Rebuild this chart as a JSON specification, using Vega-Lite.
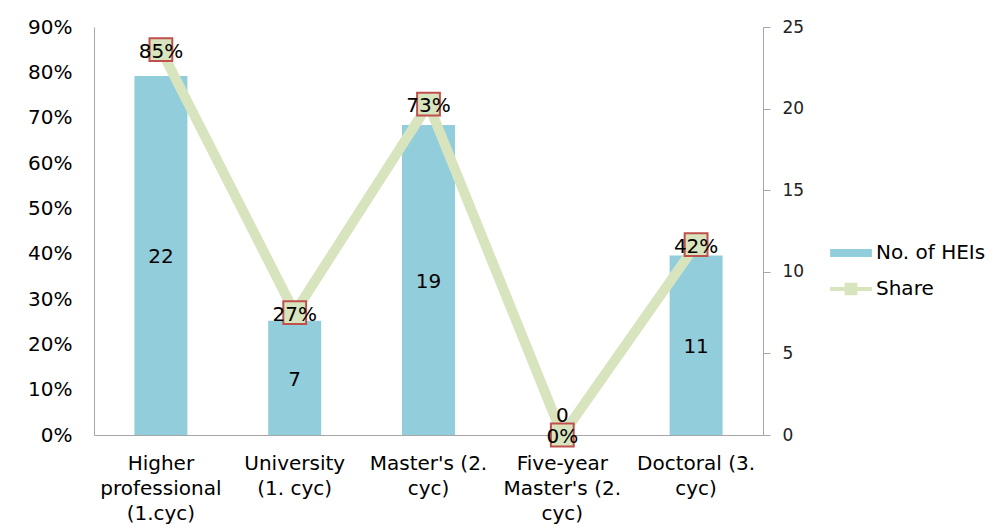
{
  "$schema": "https://vega.github.io/schema/vega-lite/v6.json",
  "width": 669,
  "height": 408,
  "autosize": {"type": "none"},
  "padding": {"left": 94, "top": 27, "right": 245, "bottom": 97},
  "background": "white",
  "config": {
    "view": {"stroke": null},
    "font": "DejaVu Sans",
    "axis": {"labelFont": "DejaVu Sans", "labelFontSize": 20, "labelColor": "#000000", "domainColor": "#A6A6A6", "tickColor": "#A6A6A6", "grid": false, "title": null}
  },
  "data": {
    "values": [
      {"category": "Higher professional (1.cyc)", "heis": 22, "share": 0.85},
      {"category": "University (1. cyc)", "heis": 7, "share": 0.27},
      {"category": "Master's (2. cyc)", "heis": 19, "share": 0.73},
      {"category": "Five-year Master's (2. cyc)", "heis": 0, "share": 0.0},
      {"category": "Doctoral (3. cyc)", "heis": 11, "share": 0.42}
    ]
  },
  "encoding": {
    "x": {
      "field": "category", "type": "nominal", "sort": null,
      "scale": {"paddingInner": 0.604, "paddingOuter": 0.302},
      "axis": {
        "labelAngle": 0, "ticks": false, "labelPadding": 18, "labelLineHeight": 25, "labelBaseline": "top",
        "labelExpr": "datum.value == 'Higher professional (1.cyc)' ? ['Higher','professional','(1.cyc)'] : datum.value == 'University (1. cyc)' ? ['University','(1. cyc)'] : datum.value == \"Master's (2. cyc)\" ? [\"Master's (2.\",'cyc)'] : datum.value == \"Five-year Master's (2. cyc)\" ? ['Five-year',\"Master's (2.\",'cyc)'] : ['Doctoral (3.','cyc)']"
      }
    }
  },
  "layer": [
    {
      "mark": {"type": "bar", "color": "#92CDDC"},
      "encoding": {
        "y": {"field": "heis", "type": "quantitative", "scale": {"domain": [0, 25]},
          "axis": {"orient": "right", "values": [0, 5, 10, 15, 20, 25], "tickSize": 7, "labelPadding": 12, "labelFontSize": 17, "labelColor": "#222222"}},
        "color": {"datum": "No. of HEIs", "type": "nominal",
          "scale": {"domain": ["No. of HEIs", "Share"], "range": ["#92CDDC", "#D7E4BD"]},
          "legend": {
            "orient": "none", "legendX": 745, "legendY": 214, "title": null,
            "labelFont": "DejaVu Sans", "labelFontSize": 20, "labelColor": "#000000", "rowPadding": 14, "symbolSize": 500, "labelOffset": 13,
            "encode": {"symbols": {"update": {
              "shape": {"signal": "datum.value == 'Share' ? 'M-1.8,-0.12h1.3v-0.38h1v0.38h1.3v0.24h-1.3v0.38h-1v-0.38h-1.3z' : 'M-1.8,-0.3h3.6v0.6h-3.6z'"},
              "fill": {"signal": "datum.value == 'Share' ? '#D7E4BD' : '#92CDDC'"},
              "stroke": {"signal": "datum.value == 'Share' ? '#C0504D' : '#92CDDC'"},
              "strokeWidth": {"value": 1.5}
            }}}
          }}
      }
    },
    {
      "mark": {"type": "line", "color": "#D7E4BD", "strokeWidth": 10},
      "encoding": {
        "y": {"field": "share", "type": "quantitative", "scale": {"domain": [0, 0.9]},
          "axis": {"orient": "left", "format": ".0%", "values": [0, 0.1, 0.2, 0.3, 0.4, 0.5, 0.6, 0.7, 0.8, 0.9], "ticks": false, "labelPadding": 22}},
        "color": {"datum": "Share", "type": "nominal"}
      }
    },
    {
      "mark": {"type": "point", "shape": "square", "size": 520, "filled": true, "fill": "#D7E4BD", "stroke": "#C0504D", "strokeWidth": 2, "opacity": 1},
      "encoding": {
        "y": {"field": "share", "type": "quantitative", "scale": {"domain": [0, 0.9]}, "axis": null}
      }
    },
    {
      "mark": {"type": "text", "fontSize": 20, "color": "#000000", "baseline": "middle", "dy": 2},
      "transform": [{"calculate": "datum.heis == 0 ? 1.3 : datum.heis / 2", "as": "mid"}],
      "encoding": {
        "y": {"field": "mid", "type": "quantitative", "scale": {"domain": [0, 25]}, "axis": null},
        "text": {"field": "heis", "type": "quantitative"}
      }
    },
    {
      "mark": {"type": "text", "fontSize": 20, "color": "#000000", "baseline": "middle", "dy": 2},
      "encoding": {
        "y": {"field": "share", "type": "quantitative", "scale": {"domain": [0, 0.9]}, "axis": null},
        "text": {"field": "share", "type": "quantitative", "format": ".0%"}
      }
    }
  ],
  "resolve": {"scale": {"y": "independent", "color": "shared"}}
}
